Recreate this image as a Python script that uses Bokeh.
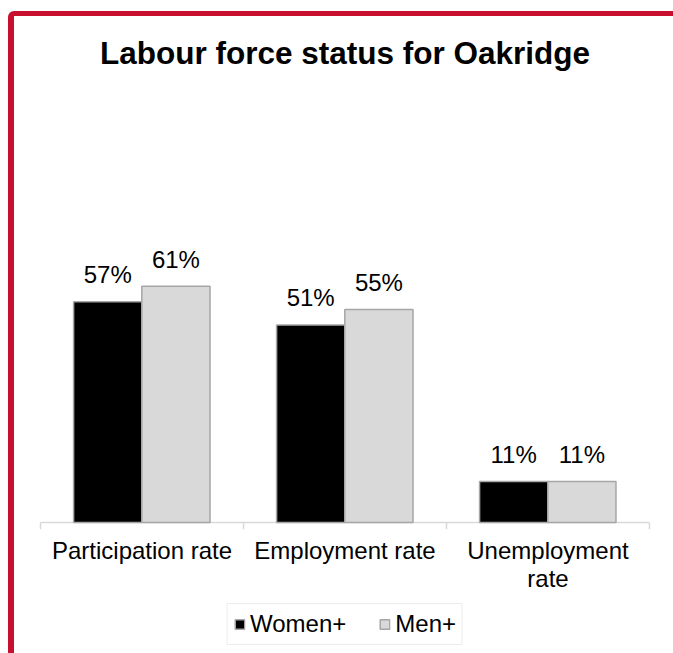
import numpy as np
from bokeh.plotting import figure
from bokeh.models import Range1d, Legend, LegendItem, ColumnDataSource
from bokeh.core.properties import value
from bokeh.embed import file_html
from bokeh.resources import INLINE

# ---- data ----
title_text = "Labour force status for Oakridge"
categories = ["Participation rate", "Employment rate", "Unemployment\nrate"]
series_names = ["Women+", "Men+"]
women = [57, 51, 10.6]
men = [61, 55, 10.6]

FONT = "Liberation Sans"
RED = "#C8102E"

n = len(categories)
idx = np.arange(n)
bar_w = 0.336
off_w = 0.331
off_m = 0.667

src_w = ColumnDataSource(dict(x=idx + off_w, top=women,
                              label=[f"{round(v)}%" for v in women]))
src_m = ColumnDataSource(dict(x=idx + off_m, top=men,
                              label=[f"{round(v)}%" for v in men]))
src_c = ColumnDataSource(dict(x=idx + 0.5, y=[0] * n, text=categories))

p = figure(width=665, height=642,
           x_range=Range1d(-0.01, n + 0.01), y_range=Range1d(-33.8, 115.4),
           output_backend="svg", toolbar_location=None,
           x_axis_location=None, y_axis_location=None,
           min_border_left=24, min_border_right=28,
           min_border_top=59, min_border_bottom=5)

p.styles = {"border-left": f"6px solid {RED}", "border-top": f"5px solid {RED}",
            "border-top-left-radius": "6px", "margin-top": "11px",
            "margin-left": "8px", "overflow": "hidden"}

p.outline_line_color = None
p.xgrid.visible = False
p.ygrid.visible = False
p.background_fill_color = "white"
p.border_fill_color = "white"

p.title.text = title_text
p.title.text_font = FONT
p.title.text_font_size = "31.5px"
p.title.text_font_style = "bold"
p.title.text_color = "black"
p.title.align = "center"
p.title.standoff = 9

# baseline and boundary ticks
p.segment(x0=[0], y0=[0], x1=[n], y1=[0], line_color="#d9d9d9", line_width=1.5)
bounds = list(range(n + 1))
p.segment(x0=bounds, y0=[0] * len(bounds), x1=bounds, y1=[-1.7] * len(bounds),
          line_color="#d9d9d9", line_width=1.5)

rw = p.vbar(x="x", top="top", bottom=0, width=bar_w, source=src_w,
            fill_color="black", line_color="#a6a6a6", line_width=1.5)
rm = p.vbar(x="x", top="top", bottom=0, width=bar_w, source=src_m,
            fill_color="#d9d9d9", line_color="#a6a6a6", line_width=1.5)

for src in (src_w, src_m):
    p.text(x="x", y="top", text="label", source=src, text_align="center",
           text_baseline="alphabetic", y_offset=-27,
           text_font=value(FONT), text_font_size="24px", text_color="black")

# category labels
p.text(x="x", y="y", text="text", source=src_c, text_align="center",
       text_baseline="top", y_offset=14, text_line_height=1.05,
       text_font=value(FONT), text_font_size="24px", text_color="black")

legend = Legend(items=[LegendItem(label=series_names[0], renderers=[rw]),
                       LegendItem(label=series_names[1], renderers=[rm])],
                orientation="horizontal", location="bottom_center",
                glyph_width=12, glyph_height=12, label_standoff=5, spacing=32,
                padding=6, margin=8,
                label_text_font=FONT, label_text_font_size="24px",
                label_text_color="black",
                border_line_color="#d9d9d9", border_line_width=1.5,
                background_fill_color="white", background_fill_alpha=1.0)
p.add_layout(legend)

open("out.html", "w").write(file_html(p, INLINE))
